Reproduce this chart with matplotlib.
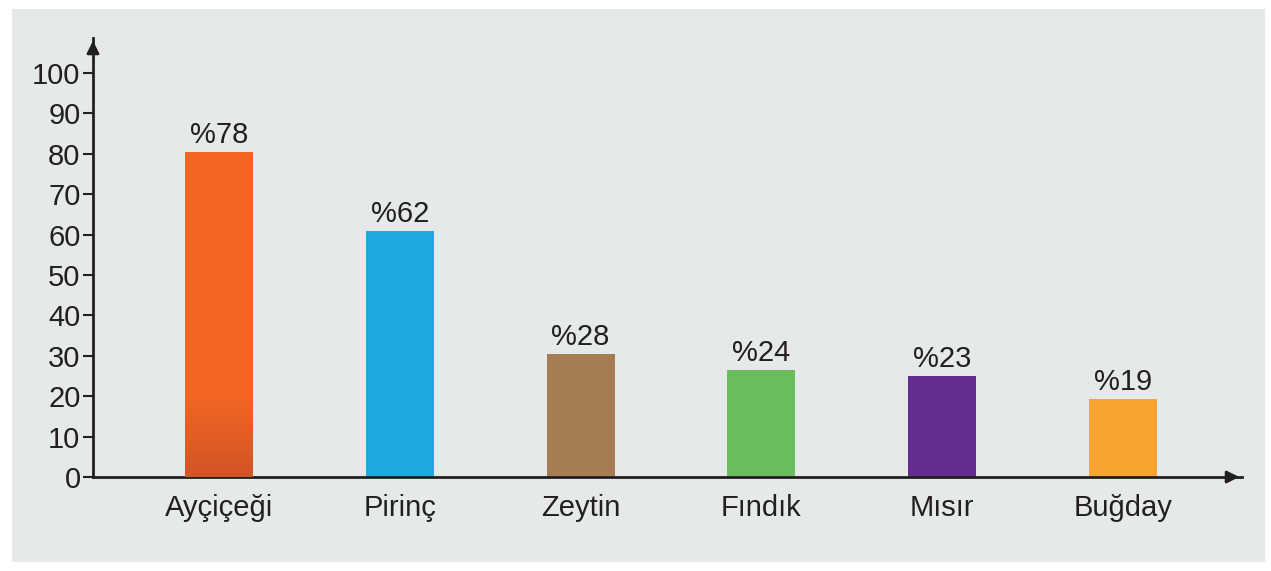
import matplotlib.pyplot as plt
import numpy as np
from matplotlib.colors import LinearSegmentedColormap

plt.rcParams['font.family'] = ['Liberation Sans', 'DejaVu Sans']

categories = ["Ayçiçeği", "Pirinç", "Zeytin", "Fındık", "Mısır", "Buğday"]
heights = [80.4, 60.9, 30.4, 26.5, 25.0, 19.3]
labels = ["%78", "%62", "%28", "%24", "%23", "%19"]
colors = ["#f26522", "#1fa9e1", "#a67c52", "#6abd5e", "#662d91", "#f8a431"]
yticks = [0, 10, 20, 30, 40, 50, 60, 70, 80, 90, 100]

W, H = 1271, 571
fig = plt.figure(figsize=(W / 100, H / 100), dpi=100)
fig.patch.set_facecolor("white")

# paper background
bg = fig.add_axes([12 / W, 9 / H, (1265 - 12) / W, (562 - 9) / H])
bg.set_facecolor("#e5e9ea")
bg.set_xticks([])
bg.set_yticks([])
for s in bg.spines.values():
    s.set_visible(False)

# main axes: x from 93px to 1242px, y=0 at 477px, 4.04 px per unit
x0, x1 = 93, 1242
ybot = H - 477
ppu = 4.04
ytop_val = (477 - 38) / ppu
ax = fig.add_axes([x0 / W, ybot / H, (x1 - x0) / W, ytop_val * ppu / H])
ax.patch.set_alpha(0)

step = 180.8
x = np.arange(len(categories))
ax.set_xlim(-(219 - x0) / step, (x1 - 219) / step)
ax.set_ylim(0, ytop_val)

bars = ax.bar(x, heights, width=68 / step, color=colors, zorder=2)

# darker gradient at the bottom of the first bar
b = bars[0]
grad = np.linspace(0, 1, 100).reshape(-1, 1)
cmap = LinearSegmentedColormap.from_list("g", ["#d35427", "#f26522"])
ax.imshow(grad, cmap=cmap, origin="lower", aspect="auto", zorder=3,
          extent=[b.get_x(), b.get_x() + b.get_width(), 0, 20])

for xi, h, lab in zip(x, heights, labels):
    ax.text(xi, h + 0.8, lab, ha="center", va="bottom", fontsize=21, color="#231f20")

ax.set_yticks(yticks)
ax.set_yticklabels([str(t) for t in yticks], fontsize=21, color="#231f20")
ax.set_xticks(x)
ax.set_xticklabels(categories, fontsize=21, color="#231f20")
ax.tick_params(axis="y", length=7, width=1.5, color="#231f20", pad=2)
ax.tick_params(axis="x", length=0, pad=12)

for s in ["top", "right"]:
    ax.spines[s].set_visible(False)
for s in ["left", "bottom"]:
    ax.spines[s].set_linewidth(2)
    ax.spines[s].set_color("#231f20")

# arrow heads
ax.annotate("", xy=(1.0, 0), xytext=(0.985, 0), xycoords="axes fraction",
            arrowprops=dict(arrowstyle="-|>", color="#231f20", lw=2, mutation_scale=18))
ax.annotate("", xy=(0, 1.0), xytext=(0, 0.96), xycoords="axes fraction",
            arrowprops=dict(arrowstyle="-|>", color="#231f20", lw=2, mutation_scale=18))

fig.savefig("out.png", dpi=100)
